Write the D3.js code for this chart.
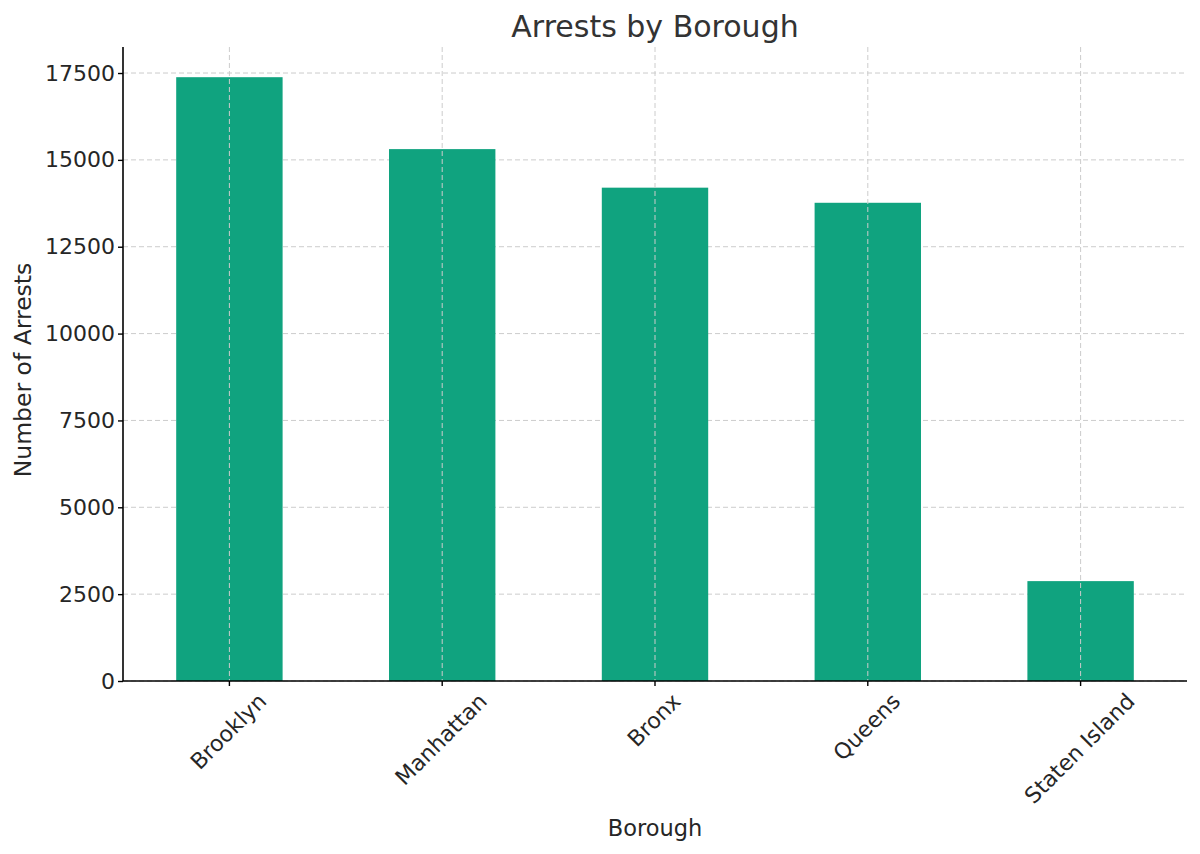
<!DOCTYPE html>
<html><head><meta charset="utf-8">
<script src="https://cdn.jsdelivr.net/npm/d3@7"></script>
<style>body{margin:0;background:#fff;} text{font-family:"DejaVu Sans",sans-serif;}</style>
</head><body>
<svg id="c" width="1200" height="854"></svg>
<script>
const categories = ["Brooklyn", "Manhattan", "Bronx", "Queens", "Staten Island"];
const arrests = [17380, 15310, 14200, 13765, 2875];
const yTicks = [0, 2500, 5000, 7500, 10000, 12500, 15000, 17500];
const title = "Arrests by Borough";
const xLabel = "Borough";
const yLabel = "Number of Arrests";

const W = 1200, H = 854;
const m = {left: 123, right: 13, top: 47, bottom: 173};
const svg = d3.select("#c");
const x = d3.scaleBand().domain(categories).range([m.left, W - m.right]).paddingInner(0.5).paddingOuter(0.25);
const yMax = d3.max(arrests) * 1.05;
const y = d3.scaleLinear().domain([0, yMax]).range([H - m.bottom, m.top]);

const textCol = "#262626";
const tickFs = 22, labFs = 22.5;
// grid
const g = svg.append("g");
g.selectAll(".hg").data(yTicks).join("line")
  .attr("x1", m.left).attr("x2", W - m.right)
  .attr("y1", d => y(d)).attr("y2", d => y(d))
  .attr("stroke", "#cccccc").attr("stroke-width", 1).attr("stroke-dasharray", "5,3");
// bars
svg.append("g").selectAll("rect").data(categories).join("rect")
  .attr("x", d => x(d)).attr("width", x.bandwidth())
  .attr("y", (d, i) => y(arrests[i])).attr("height", (d, i) => y(0) - y(arrests[i]))
  .attr("fill", "#10a37f");
svg.append("g").selectAll("line").data(categories).join("line")
  .attr("x1", d => x(d) + x.bandwidth() / 2).attr("x2", d => x(d) + x.bandwidth() / 2)
  .attr("y1", m.top).attr("y2", H - m.bottom)
  .attr("stroke", "#cccccc").attr("stroke-width", 1).attr("stroke-dasharray", "5,3");

// y axis
const ya = svg.append("g").attr("transform", `translate(${m.left},0)`)
  .call(d3.axisLeft(y).tickValues(yTicks).tickSize(5).tickPadding(3).tickFormat(d3.format("d")));
ya.select(".domain").attr("stroke", "#000").attr("stroke-width", 1.6).attr("d", `M0,${H - m.bottom}V${m.top - 0}`);
ya.selectAll(".tick line").attr("stroke", "#000").attr("stroke-width", 1.4);
ya.selectAll(".tick text").attr("font-size", tickFs).attr("fill", textCol).attr("font-family", "DejaVu Sans");

// x axis
const xa = svg.append("g").attr("transform", `translate(0,${H - m.bottom})`)
  .call(d3.axisBottom(x).tickSize(5).tickFormat(""));
xa.select(".domain").attr("stroke", "#000").attr("stroke-width", 1.6).attr("d", `M${m.left},0H${W - m.right}`);
xa.selectAll(".tick line").attr("stroke", "#000").attr("stroke-width", 1.4);

// rotated labels
const lbl = svg.append("g");
categories.forEach(c => {
  const cx = x(c) + x.bandwidth() / 2;
  const t = lbl.append("text").text(c).attr("font-size", tickFs).attr("fill", textCol)
    .attr("text-anchor", "middle").attr("dominant-baseline", "central");
  const w = t.node().getComputedTextLength();
  const h = tickFs * 0.95;
  const half = (w + h) * Math.SQRT1_2 / 2;
  const cy = H - m.bottom + 9 + half;
  t.attr("transform", `translate(${cx - 1},${cy}) rotate(-45)`);
});

svg.append("text").attr("x", (m.left + W - m.right) / 2).attr("y", 37)
  .attr("text-anchor", "middle").attr("font-size", 30).attr("fill", "#333333").text(title);
svg.append("text").attr("x", (m.left + W - m.right) / 2).attr("y", 836)
  .attr("text-anchor", "middle").attr("font-size", labFs).attr("fill", textCol).text(xLabel);
svg.append("text").attr("transform", `translate(31,${(m.top + H - m.bottom) / 2 + 6}) rotate(-90)`)
  .attr("text-anchor", "middle").attr("font-size", 23.5).attr("fill", textCol).text(yLabel);
</script>
</body></html>
